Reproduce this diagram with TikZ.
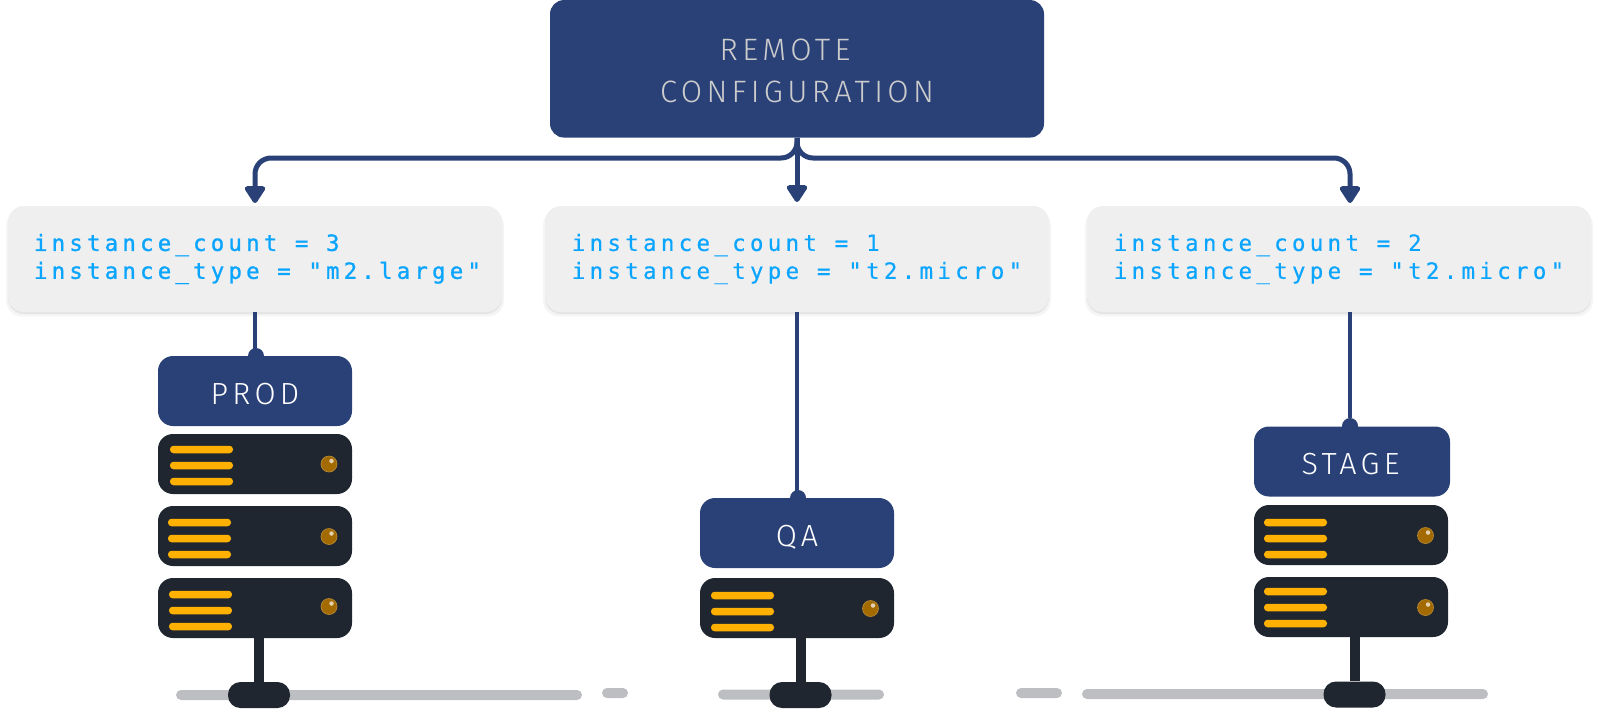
\documentclass[tikz,border=0pt]{standalone}
\usepackage{fontspec}
\usetikzlibrary{arrows.meta,shadows}
\newfontfamily\labelfont[LetterSpace=14]{Fira Sans Light}
\newfontfamily\codefont[LetterSpace=19,FakeBold=0.25]{DejaVu Sans Mono}
\newfontfamily\codefontheavy[LetterSpace=19,FakeBold=1.1]{DejaVu Sans Mono}
\definecolor{navy}{HTML}{2A4178}
\definecolor{rack}{HTML}{1F2630}
\definecolor{amber}{HTML}{FFB000}
\definecolor{ledbrown}{HTML}{A36A00}
\definecolor{codeblue}{HTML}{0AA5FF}
\definecolor{panel}{HTML}{EFEFEF}
\definecolor{floorgrey}{HTML}{BDBEC2}
\begin{document}
\begin{tikzpicture}[
  remote/.style={rectangle, rounded corners=0.28cm, fill=navy, text=black!20, align=center,
                 font=\labelfont\fontsize{17.6}{23.9}\selectfont, minimum width=9.88cm, minimum height=2.75cm, inner sep=0pt},
  config/.style={rectangle, rounded corners=0.32cm, fill=panel, align=left, text=codeblue,
                 font=\codefont\fontsize{12.8}{15.9}\selectfont, minimum width=10.08cm, minimum height=2.12cm, inner sep=0pt,
                 general shadow={fill=black!4, shadow yshift=-0.08cm, shadow scale=1.008},
                 general shadow={fill=black!10, shadow yshift=-0.04cm}},
  envname/.style={rectangle, rounded corners=0.30cm, fill=navy, text=white, align=center,
                  font=\labelfont\fontsize{17.4}{20}\selectfont, minimum width=3.88cm, minimum height=1.40cm, inner sep=0pt,
                  text height=0.53cm, text depth=0pt},
  server/.style={rectangle, rounded corners=0.30cm, fill=rack, minimum width=3.88cm, minimum height=1.20cm, inner sep=0pt},
  bar/.style={rectangle, rounded corners=0.07cm, fill=amber, minimum width=1.26cm, minimum height=0.15cm, inner sep=0pt},
  led/.style={circle, fill=ledbrown, draw=ledbrown!80!white, line width=0.4pt, minimum size=0.32cm, inner sep=0pt},
  glint/.style={circle, fill=white!70!ledbrown, minimum size=0.09cm, inner sep=0pt},
  floor/.style={rectangle, rounded corners=0.10cm, fill=floorgrey, minimum height=0.20cm, inner sep=0pt},
  foot/.style={rectangle, rounded corners=0.25cm, fill=rack, minimum width=1.24cm, minimum height=0.52cm, inner sep=0pt},
  dot/.style={circle, fill=navy, minimum size=0.32cm, inner sep=0pt},
  post/.style={draw=rack, line width=0.20cm},
  link/.style={draw=navy, line width=0.10cm, rounded corners=0.32cm, -{Triangle[length=0.38cm, width=0.46cm, round]}},
  drop/.style={draw=navy, line width=0.08cm},
]
\useasboundingbox (0,0) rectangle (31.96,-14.16);

% --- remote and the three settings panels ---
\node[remote] (remote) at (15.94,-1.376) {\rule{0pt}{0.51cm}REMOTE\hspace*{0.48cm}\\CONFIGURATION};

\node[config, minimum width=9.88cm, font=\codefontheavy\fontsize{12.7}{15.9}\selectfont] (cfgprod) at (5.10,-5.18) {\hspace*{0.10cm}instance\_count = 3\\\hspace*{0.10cm}instance\_type = "m2.large"};
\node[config] (cfgqa)    at (15.94,-5.18) {instance\_count = 1\\instance\_type = "t2.micro"};
\node[config] (cfgstage) at (26.78,-5.18) {instance\_count = 2\\instance\_type = "t2.micro"};

% --- floor lines ---
\node[floor, minimum width=8.12cm] (floorprod)  at (7.58,-13.90)  {};
\node[floor, minimum width=0.52cm] (gapprod)    at (12.30,-13.86) {};
\node[floor, minimum width=3.32cm] (floorqa)    at (16.02,-13.89) {};
\node[floor, minimum width=0.92cm] (gapstage)   at (20.78,-13.86) {};
\node[floor, minimum width=8.12cm] (floorstage) at (25.70,-13.88) {};

% --- environment labels ---
\node[envname] (prod)  at (5.10,-7.82)  {PROD};
\node[envname] (qa)    at (15.94,-10.66) {QA};
\node[envname, minimum width=3.92cm] (stage) at (27.04,-9.23) {\hspace*{-0.06cm}STAGE};

% --- servers ---
\node[server] (prod1)  at (5.10,-9.28)   {};
\node[server] (prod2)  at (5.10,-10.72)  {};
\node[server] (prod3)  at (5.10,-12.16)  {};
\node[server] (qa1)    at (15.94,-12.16) {};
\node[server] (stage1) at (27.02,-10.70) {};
\node[server] (stage2) at (27.02,-12.14) {};

\node[bar] (p1a) at (4.03,-8.99)  {};
\node[bar] (p1b) at (4.03,-9.31)  {};
\node[bar] (p1c) at (4.03,-9.63)  {};
\node[bar] (p2a) at (3.99,-10.45) {};
\node[bar] (p2b) at (3.99,-10.77) {};
\node[bar] (p2c) at (3.99,-11.09) {};
\node[bar] (p3a) at (4.01,-11.89) {};
\node[bar] (p3b) at (4.01,-12.21) {};
\node[bar] (p3c) at (4.01,-12.53) {};
\node[bar] (q1a) at (14.85,-11.91) {};
\node[bar] (q1b) at (14.85,-12.23) {};
\node[bar] (q1c) at (14.85,-12.55) {};
\node[bar] (s1a) at (25.91,-10.45) {};
\node[bar] (s1b) at (25.91,-10.77) {};
\node[bar] (s1c) at (25.91,-11.09) {};
\node[bar] (s2a) at (25.91,-11.83) {};
\node[bar] (s2b) at (25.91,-12.15) {};
\node[bar] (s2c) at (25.91,-12.47) {};

\node[led] (ledp1) at (6.58,-9.28)   {};
\node[led] (ledp2) at (6.58,-10.73)  {};
\node[led] (ledp3) at (6.58,-12.13)  {};
\node[led] (ledq1) at (17.41,-12.17) {};
\node[led] (leds1) at (28.51,-10.71) {};
\node[led] (leds2) at (28.51,-12.15) {};
\node[glint] at ([shift={(0.05,0.06)}]ledp1) {};
\node[glint] at ([shift={(0.05,0.06)}]ledp2) {};
\node[glint] at ([shift={(0.05,0.06)}]ledp3) {};
\node[glint] at ([shift={(0.05,0.06)}]ledq1) {};
\node[glint] at ([shift={(0.05,0.06)}]leds1) {};
\node[glint] at ([shift={(0.05,0.06)}]leds2) {};

% --- stands ---
\node[foot] (footprod)  at (5.18,-13.90)  {};
\node[foot] (footqa)    at (16.01,-13.90) {};
\node[foot] (footstage) at (27.09,-13.89) {};
\draw[post] (footprod |- prod3.south) -- (footprod.north);
\draw[post] (footqa |- qa1.south) -- (footqa.north);
\draw[post] (footstage |- stage2.south) -- (footstage.north);

% --- links from the remote ---
\coordinate (bus) at (15.94,-3.16);
\coordinate (tipprod)  at (5.10,-4.06);
\coordinate (tipqa)    at (15.94,-4.04);
\coordinate (tipstage) at (27.00,-4.06);
\draw[link] (remote.south) |- (bus -| tipprod) -- (tipprod);
\draw[link] (remote.south) |- (bus -| tipstage) -- (tipstage);
\draw[link] (remote.south) -- (tipqa);

% --- drops to the labels ---
\node[dot] (dotprod)  at (5.12,-7.12)  {};
\node[dot] (dotqa)    at (15.96,-9.96) {};
\node[dot] (dotstage) at (27.00,-8.52) {};
\draw[drop] (cfgprod.south) -- (prod.north);
\draw[drop] (cfgqa.south) -- (qa.north);
\draw[drop] (cfgstage.south -| dotstage) -- (dotstage);

\end{tikzpicture}
\end{document}
